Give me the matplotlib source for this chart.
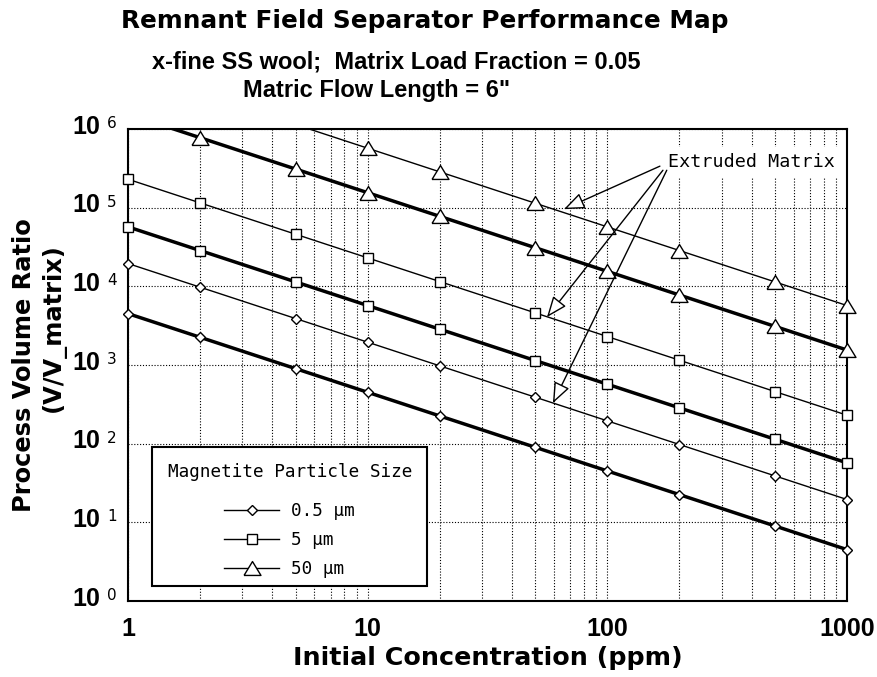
import matplotlib
matplotlib.use("Agg")
import matplotlib.pyplot as plt
from matplotlib.lines import Line2D
from matplotlib.offsetbox import PaddedBox
import numpy as np

# ---------------- data ----------------
conc = [1, 2, 5, 10, 20, 50, 100, 200, 500, 1000]          # Initial concentration (ppm)

# 0.5 um particles
d_std = [4500, 2250, 900, 450, 225, 90, 45, 22.5, 9, 4.5]
d_ext = [19500, 9750, 3900, 1950, 975, 390, 195, 97.5, 39, 19.5]
# 5 um particles
s_std = [57000, 28500, 11400, 5700, 2850, 1140, 570, 285, 114, 57]
s_ext = [230000, 115000, 46000, 23000, 11500, 4600, 2300, 1150, 460, 230]
# 50 um particles
t_std = [1550000, 775000, 310000, 155000, 77500, 31000, 15500, 7750, 3100, 1550]
conc_t_ext = [5, 10, 20, 50, 100, 200, 500, 1000]
t_ext = [1140000, 570000, 285000, 114000, 57000, 28500, 11400, 5700]

legend_labels = ["0.5 \u00b5m", "5 \u00b5m", "50 \u00b5m"]
xtick_vals = [1, 10, 100, 1000]
xtick_labels = ["1", "10", "100", "1000"]
y_exponents = [0, 1, 2, 3, 4, 5, 6]

YMIN, YMAX = 1.0, 1.0e6

# ---------------- styling ----------------
W, H = 877, 677
fig = plt.figure(figsize=(W / 100, H / 100), dpi=100, facecolor="white")
ax = fig.add_axes([128 / W, (H - 601) / H, (847 - 128) / W, (601 - 129) / H])
ax.set_xscale("log")
ax.set_yscale("log")
ax.set_xlim(1, 1000)
ax.set_ylim(YMIN, YMAX)

tri = [(-1, -0.82), (1, -0.82), (0, 0.82), (-1, -0.82)]
styles = {
    "d": dict(marker="D", ms=4.6),
    "s": dict(marker="s", ms=7.2),
    "t": dict(marker=tri, ms=12.2),
}
THICK, THIN = 2.5, 1.0


def draw(x, y, key, lw):
    x = np.asarray(x, float)
    y = np.asarray(y, float)
    ax.plot(x, y, color="black", lw=lw, zorder=3, solid_capstyle="butt")
    inside = y <= YMAX
    ax.plot(x[inside], y[inside], ls="none", mfc="white", mec="black", mew=1.0,
            clip_on=False, zorder=4, **styles[key])


draw(conc, d_std, "d", THICK)
draw(conc, d_ext, "d", THIN)
draw(conc, s_std, "s", THICK)
draw(conc, s_ext, "s", THIN)
draw(conc[1:], t_std[1:], "t", THICK)
ax.plot(conc[:2], t_std[:2], color="black", lw=THICK, zorder=3)
draw(conc_t_ext, t_ext, "t", THIN)

# grid
dot = (0, (1, 1.6))
ax.xaxis.set_minor_locator(matplotlib.ticker.LogLocator(base=10, subs=np.arange(2, 10)))
ax.yaxis.set_minor_locator(matplotlib.ticker.NullLocator())
ax.grid(True, which="major", axis="both", color="black", lw=0.8, ls=dot)
ax.grid(True, which="minor", axis="x", color="black", lw=0.8, ls=dot)
ax.set_axisbelow(True)

for sp in ax.spines.values():
    sp.set_linewidth(1.5)

ax.tick_params(which="both", length=0)
ax.set_xticks(xtick_vals)
ax.set_xticklabels(xtick_labels, fontfamily="Liberation Sans", fontweight="bold", fontsize=18)
ax.tick_params(axis="x", pad=11.5)
ax.xaxis.set_minor_formatter(matplotlib.ticker.NullFormatter())
ax.set_yticks([10.0 ** e for e in y_exponents])
ax.set_yticklabels([])

for e in y_exponents:
    ax.annotate("10", xy=(0, 10.0 ** e), xycoords=("axes fraction", "data"),
                xytext=(-28, 2.5), textcoords="offset pixels", ha="right", va="center",
                fontfamily="Liberation Sans", fontweight="bold", fontsize=18,
                annotation_clip=False)
    ax.annotate(str(e), xy=(0, 10.0 ** e), xycoords=("axes fraction", "data"),
                xytext=(-21, 5.5), textcoords="offset pixels", ha="left", va="center",
                fontfamily="DejaVu Sans", fontsize=11, annotation_clip=False)

# axis labels
fig.text(24 / W, (H - 365) / H, "Process Volume Ratio", rotation=90, ha="center", va="center",
         fontfamily="DejaVu Sans", fontweight="bold", fontsize=17.4)
fig.text(53 / W, (H - 328) / H, "(V/V_matrix)", rotation=90, ha="center", va="center",
         fontfamily="DejaVu Sans", fontweight="bold", fontsize=17.4)
fig.text(488 / W, (H - 658) / H, "Initial Concentration (ppm)", ha="center", va="center",
         fontfamily="DejaVu Sans", fontweight="bold", fontsize=18.3)

# titles
fig.text(424.5 / W, (H - 28.3) / H, "Remnant Field Separator Performance Map", ha="center",
         va="baseline", fontfamily="DejaVu Sans", fontweight="bold", fontsize=17.8)
fig.text(396.5 / W, (H - 68.3) / H, "x-fine SS wool;  Matrix Load Fraction = 0.05", ha="center",
         va="baseline", fontfamily="Liberation Sans", fontweight="bold", fontsize=17)
fig.text(377 / W, (H - 96.7) / H, "Matric Flow Length = 6\"", ha="center",
         va="baseline", fontfamily="Liberation Sans", fontweight="bold", fontsize=17)

# annotation
txt_xy = (179, 3.79e5)
tips = [(65.9, 9.57e4), (56, 4.06e3), (59.3, 3.28e2)]
tails = [(165.7, 3.37e5), (170.6, 2.99e5), (177, 2.99e5)]
ax.text(txt_xy[0], txt_xy[1], "Extruded Matrix", ha="left", va="center",
        fontfamily="DejaVu Sans Mono", fontsize=13.2, zorder=5,
        bbox=dict(boxstyle="square,pad=0.35", fc="white", ec="none"))
for tip, tail in zip(tips, tails):
    ax.annotate("", xy=tip, xytext=tail,
                arrowprops=dict(arrowstyle="-|>,head_length=0.75,head_width=0.3",
                                mutation_scale=17, fc="white", ec="black", lw=1.0,
                                shrinkA=0, shrinkB=0),
                zorder=6)

# legend
handles = [
    Line2D([], [], color="black", lw=1.0, mfc="white", mec="black", mew=1.0, **styles["d"]),
    Line2D([], [], color="black", lw=1.0, mfc="white", mec="black", mew=1.0, **styles["s"]),
    Line2D([], [], color="black", lw=1.0, mfc="white", mec="black", mew=1.0, **styles["t"]),
]
fs_leg = 12.7
leg = ax.legend(handles, legend_labels, title="Magnetite Particle Size",
                loc="upper left", bbox_to_anchor=((152 - 128) / 719, (601 - 447) / 472),
                borderaxespad=0, fancybox=False, framealpha=1, edgecolor="black",
                prop=dict(family="DejaVu Sans Mono", size=fs_leg),
                title_fontproperties=dict(family="DejaVu Sans Mono", size=fs_leg),
                borderpad=0.45, labelspacing=0.62, handlelength=3.1, handletextpad=0.68,
                numpoints=1)
leg.get_frame().set_linewidth(1.5)
leg._legend_box._children[0] = PaddedBox(leg._legend_title_box, pad=5.45, draw_frame=False)
leg._legend_box.sep = 10.2
leg.set_zorder(7)

fig.savefig("out.png", dpi=100, facecolor="white")
